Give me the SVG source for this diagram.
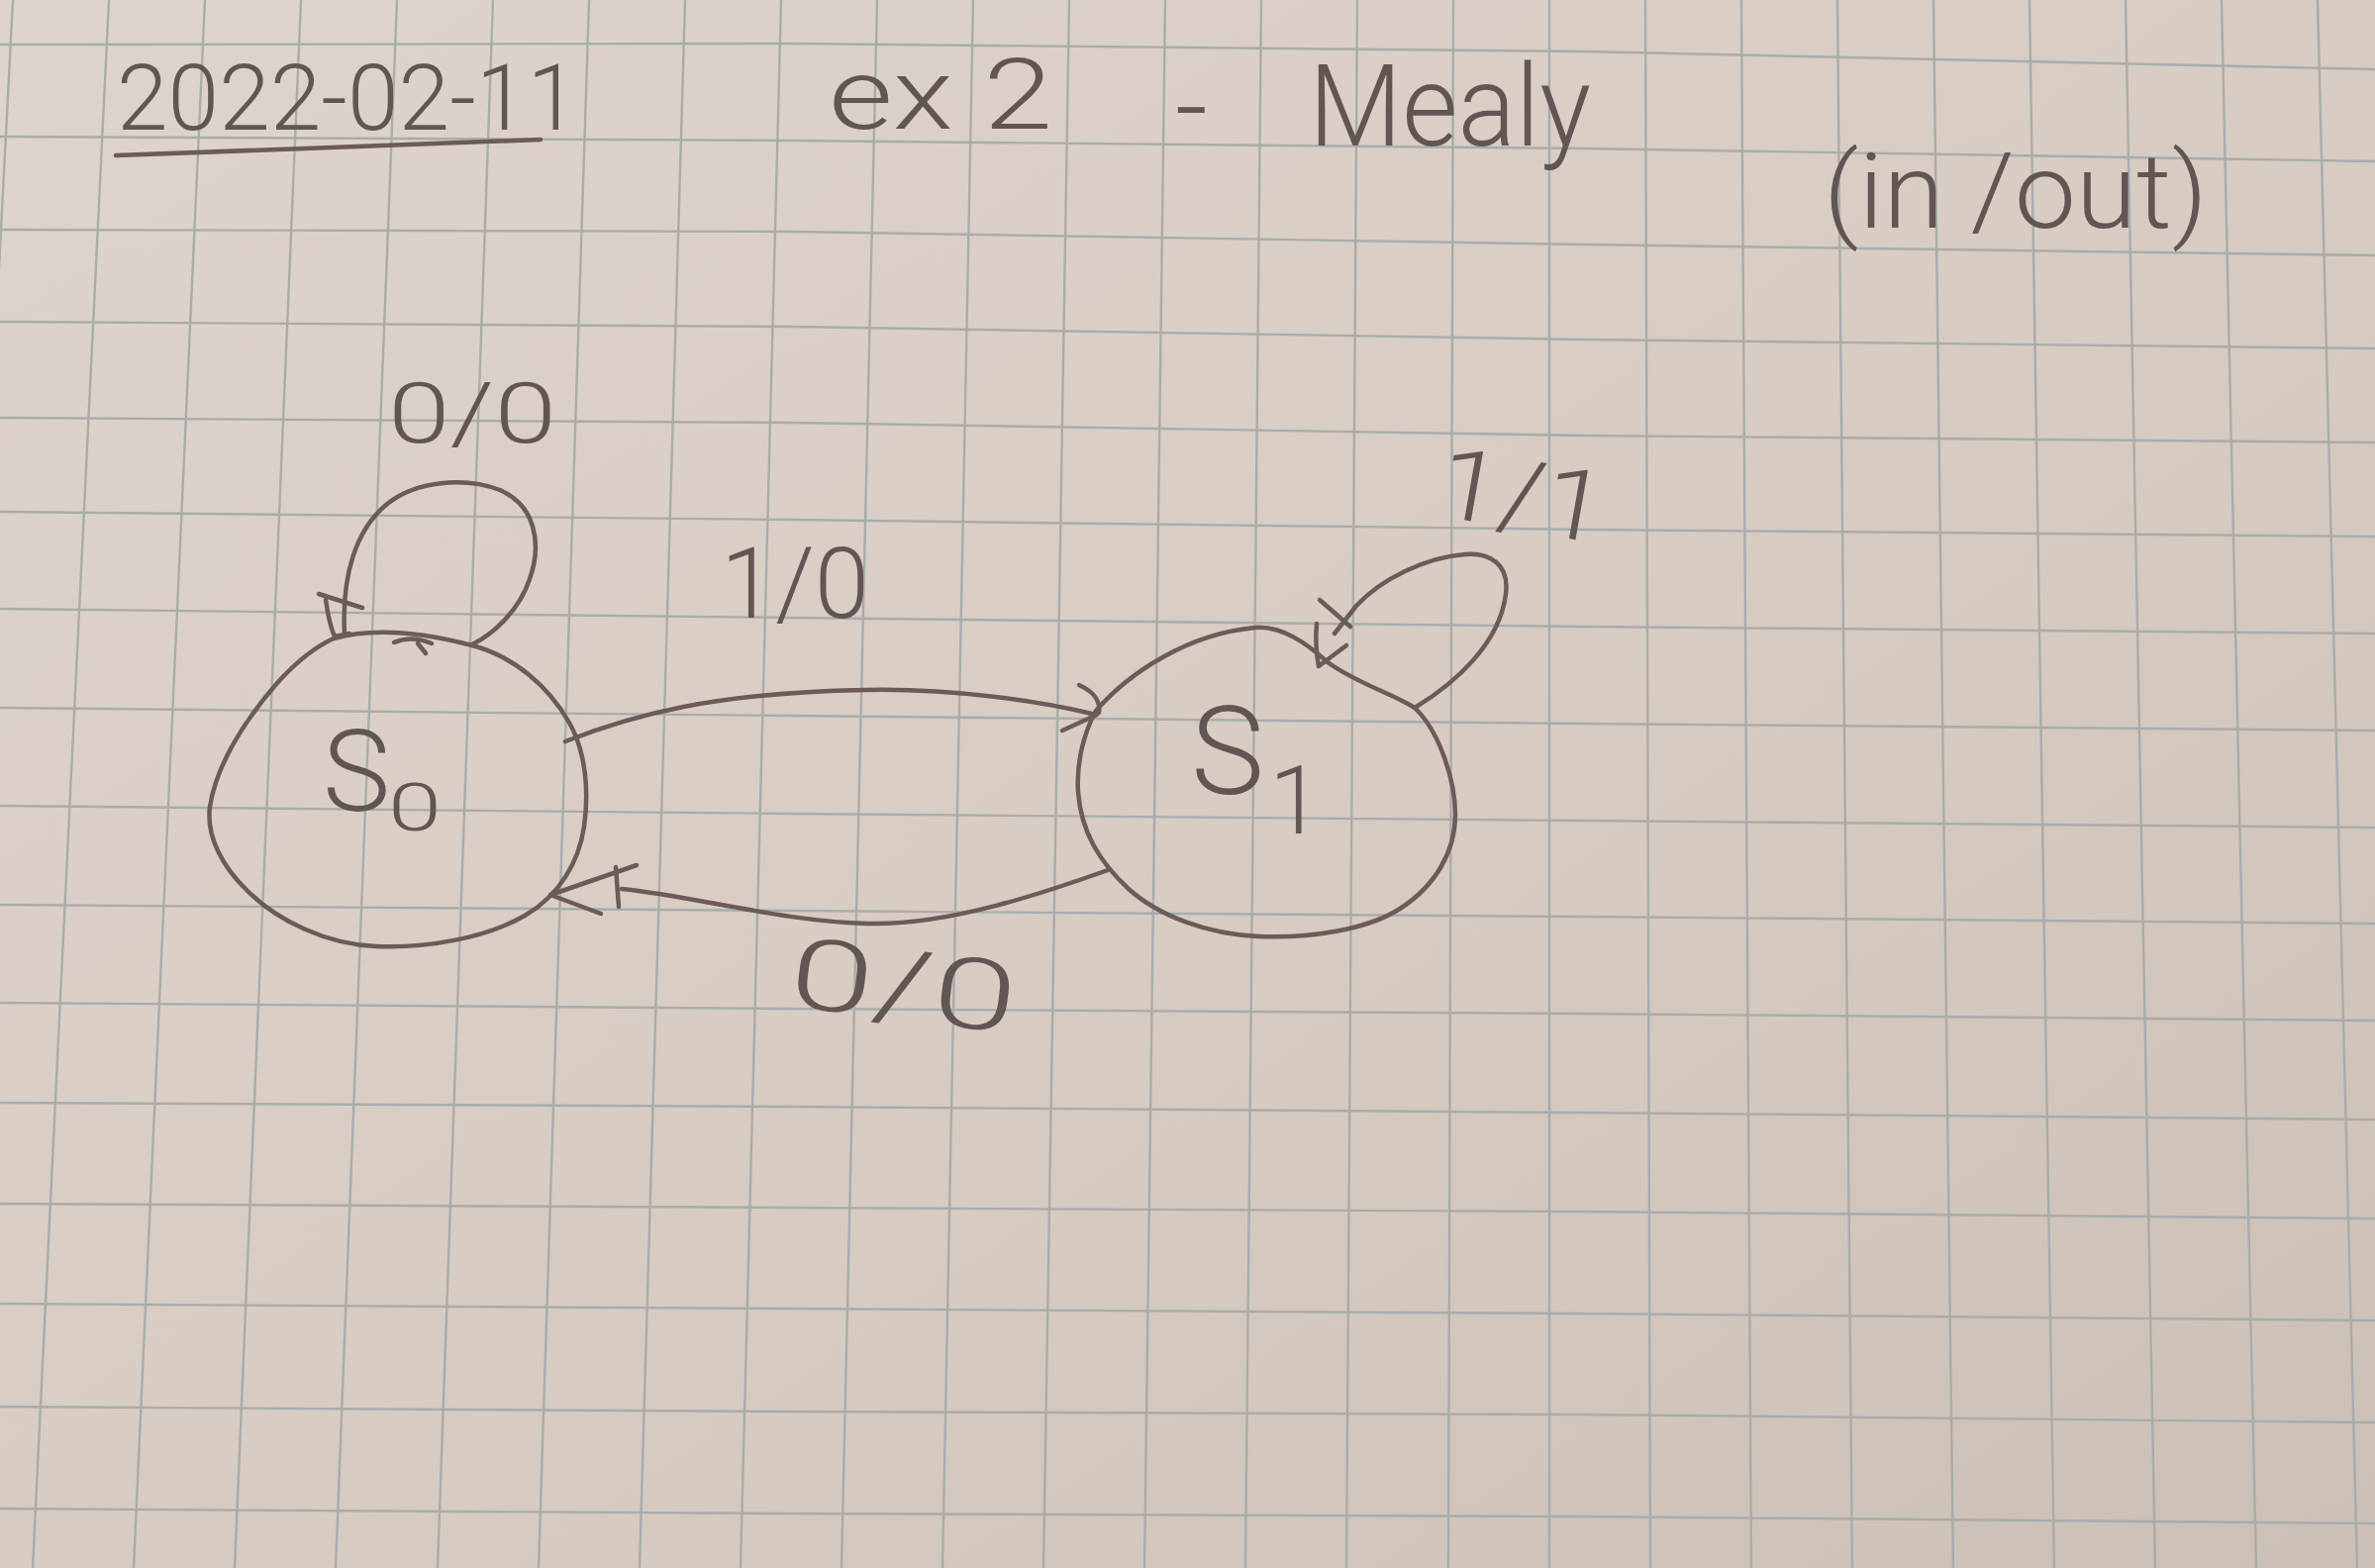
<svg xmlns="http://www.w3.org/2000/svg" width="2399" height="1584" viewBox="0 0 2399 1584">
<defs>
<linearGradient id="paper" x1="0" y1="0" x2="1" y2="1">
<stop offset="0" stop-color="#ded4cc"/>
<stop offset="0.6" stop-color="#d7cac1"/>
<stop offset="1" stop-color="#ccbfb6"/>
</linearGradient>
<style>
.grid line, .grid polyline { stroke:#a7adac; stroke-width:2.4; fill:none; }
.pen { fill:none; stroke:#6c5b59; stroke-width:4.5; stroke-linecap:round; stroke-linejoin:round; }
.hand { font-family:Roboto, "Liberation Sans", sans-serif; font-weight:300; fill:#625654; }
</style>
</defs>
<rect width="2399" height="1584" fill="url(#paper)"/>
<g id="grid" class="grid">
<line x1="13" y1="0" x2="-69" y2="1584"/>
<line x1="110" y1="0" x2="33" y2="1584"/>
<line x1="207" y1="0" x2="135" y2="1584"/>
<line x1="304" y1="0" x2="237" y2="1584"/>
<line x1="401" y1="0" x2="339" y2="1584"/>
<line x1="498" y1="0" x2="442" y2="1584"/>
<line x1="595" y1="0" x2="544" y2="1584"/>
<line x1="692" y1="0" x2="646" y2="1584"/>
<line x1="789" y1="0" x2="748" y2="1584"/>
<line x1="886" y1="0" x2="850" y2="1584"/>
<line x1="983" y1="0" x2="952" y2="1584"/>
<line x1="1080" y1="0" x2="1054" y2="1584"/>
<line x1="1177" y1="0" x2="1156" y2="1584"/>
<line x1="1274" y1="0" x2="1258" y2="1584"/>
<line x1="1371" y1="0" x2="1360" y2="1584"/>
<line x1="1468" y1="0" x2="1463" y2="1584"/>
<line x1="1565" y1="0" x2="1565" y2="1584"/>
<line x1="1662" y1="0" x2="1667" y2="1584"/>
<line x1="1759" y1="0" x2="1769" y2="1584"/>
<line x1="1856" y1="0" x2="1871" y2="1584"/>
<line x1="1953" y1="0" x2="1973" y2="1584"/>
<line x1="2050" y1="0" x2="2075" y2="1584"/>
<line x1="2147" y1="0" x2="2177" y2="1584"/>
<line x1="2244" y1="0" x2="2279" y2="1584"/>
<line x1="2341" y1="0" x2="2381" y2="1584"/>
<polyline points="0,45 800,44 1600,52 2399,70"/>
<polyline points="0,138 800,142 1600,150 2399,163"/>
<polyline points="0,232 800,234 1600,247 2399,258"/>
<polyline points="0,325 800,330 1600,343 2399,352"/>
<polyline points="0,422 800,427 1600,440 2399,447"/>
<polyline points="0,517 800,525 1600,535 2399,542"/>
<polyline points="0,615 800,624 1600,633 2399,640"/>
<polyline points="0,715 800,723 1600,731 2399,738"/>
<polyline points="0,814 800,822 1600,829 2399,836"/>
<polyline points="0,914 800,920 1600,926 2399,933"/>
<polyline points="0,1013 800,1019 1600,1024 2399,1031"/>
<polyline points="0,1114 800,1118 1600,1124 2399,1131"/>
<polyline points="0,1216 800,1220 1600,1224 2399,1231"/>
<polyline points="0,1317 800,1322 1600,1327 2399,1334"/>
<polyline points="0,1421 800,1426 1600,1429 2399,1437"/>
<polyline points="0,1524 800,1529 1600,1532 2399,1539"/>
</g>
<g id="title">
<text class="hand" x="118" y="131" font-size="92" textLength="466" lengthAdjust="spacingAndGlyphs">2022-02-11</text>
<path class="pen" d="M117,157 C250,152 420,146 546,141"/>
<text class="hand" y="130" font-size="100"><tspan x="837" textLength="226" lengthAdjust="spacingAndGlyphs">ex 2</tspan><tspan x="1187" y="147" font-size="115">- </tspan><tspan x="1322" y="147" font-size="115" textLength="285" lengthAdjust="spacingAndGlyphs">Mealy</tspan></text>
<text class="hand" x="1842" y="230" font-size="105" textLength="388" lengthAdjust="spacingAndGlyphs">(in /out)</text>
</g>
<g id="node-S0">
<path class="pen" d="M337,645 C380,633 430,640 473,651 C520,662 555,695 575,730 C592,760 595,800 590,835 C585,870 565,905 530,925 C490,948 430,958 380,956 C330,954 280,930 250,900 C225,876 208,845 212,815 C218,775 245,730 280,690 C298,670 315,655 337,645 Z"/>
<path class="pen" d="M398,649 C410,644 422,644 436,650 M422,650 L430,660"/>
<text class="hand" x="326" y="819" font-size="115">S<tspan x="392" y="839" font-size="66" textLength="54" lengthAdjust="spacingAndGlyphs">0</tspan></text>
</g>
<g id="node-S1">
<path class="pen" d="M1107,718 C1140,680 1200,640 1268,634 C1295,632 1320,650 1341,669 C1370,690 1405,700 1429,715 C1455,740 1470,790 1470,823 C1470,860 1450,895 1414,918 C1380,940 1320,948 1272,946 C1220,944 1170,925 1140,898 C1110,870 1092,840 1089,800 C1087,770 1095,740 1107,718 Z"/>
<text class="hand" x="1203" y="802" font-size="125">S<tspan x="1282" y="842" font-size="96">1</tspan></text>
</g>
<g id="connectors">
<g id="edge-S0-S0">
<path class="pen" d="M477,651 C500,640 525,615 535,585 C548,548 540,510 505,495 C470,482 420,485 390,510 C360,535 345,580 348,640"/>
<path class="pen" d="M322,600 L366,614 M329,606 C331,620 333,632 338,643 L353,640"/>
<text class="hand" x="392" y="447" font-size="85" textLength="170" lengthAdjust="spacingAndGlyphs">0/0</text>
</g>
<g id="edge-S0-S1">
<path class="pen" d="M571,749 C640,722 720,700 873,697 C960,695 1050,708 1107,722"/>
<path class="pen" d="M1090,692 C1103,698 1112,706 1110,720 M1073,738 L1108,722"/>
<text class="hand" x="728" y="624" font-size="100" textLength="150" lengthAdjust="spacingAndGlyphs">1/0</text>
</g>
<g id="edge-S1-S0">
<path class="pen" d="M1119,879 C1060,900 960,935 877,933 C790,931 700,905 628,898"/>
<path class="pen" d="M643,874 L556,904 L607,923 M622,876 L625,916"/>
<text class="hand" x="797" y="1030" font-size="100" textLength="230" lengthAdjust="spacingAndGlyphs" transform="rotate(7 910 1000)">0/0</text>
</g>
<g id="edge-S1-S1">
<path class="pen" d="M1429,715 C1470,690 1515,650 1521,600 C1525,570 1505,558 1480,560 C1440,563 1395,585 1370,612 L1348,640"/>
<path class="pen" d="M1333,606 L1364,633 M1330,630 C1328,650 1330,662 1332,673 L1360,652"/>
<text class="hand" x="1452" y="535" font-size="100" textLength="170" lengthAdjust="spacingAndGlyphs" transform="rotate(10 1537 505)">1/1</text>
</g>
</g>
</svg>
